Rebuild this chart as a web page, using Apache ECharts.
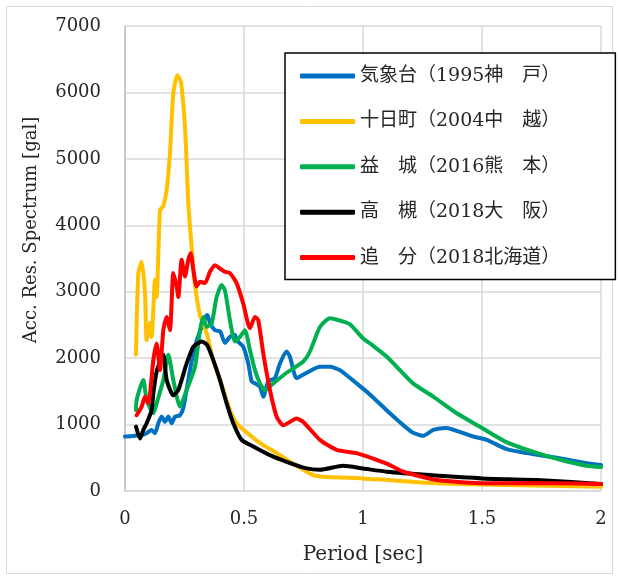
<!DOCTYPE html>
<html>
<head>
<meta charset="utf-8">
<script src="https://cdn.jsdelivr.net/npm/echarts@6/dist/echarts.min.js"></script>
<style>
    html, body { margin: 0; padding: 0; background: #fff; }
    #chart { width: 619px; height: 580px; }
</style>
</head>
<body>
<div id="chart"></div>
<script>
// 凡例ラベル
const seriesNames = [
    '気象台（1995神　戸）',
    '十日町（2004中　越）',
    '益　城（2016熊　本）',
    '高　槻（2018大　阪）',
    '追　分（2018北海道）'
];
const seriesColors = ['#0070C0', '#FFC000', '#00B050', '#000000', '#FF0000'];
const yAxisTitle = 'Acc. Res. Spectrum [gal]';

// [周期 sec, 加速度応答 gal]
const kishodai = [[0,820],[0.042,830],[0.07,840],[0.091,870],[0.112,920],[0.126,870],[0.14,1020],[0.154,1120],[0.168,1040],[0.182,1120],[0.196,1020],[0.21,1120],[0.231,1140],[0.245,1250],[0.26,1550],[0.28,1950],[0.3,2250],[0.32,2450],[0.336,2600],[0.346,2650],[0.357,2530],[0.378,2420],[0.4,2400],[0.42,2230],[0.441,2320],[0.462,2350],[0.469,2270],[0.497,2170],[0.518,1920],[0.532,1650],[0.546,1620],[0.567,1570],[0.581,1420],[0.602,1650],[0.63,1700],[0.651,1920],[0.679,2100],[0.693,2020],[0.721,1700],[0.763,1780],[0.819,1870],[0.861,1870],[0.903,1820],[0.973,1620],[1.03,1450],[1.113,1170],[1.204,890],[1.253,830],[1.295,920],[1.35,950],[1.407,890],[1.463,820],[1.52,770],[1.604,630],[1.688,570],[1.814,500],[1.94,420],[2.0,390]];
const tokamachi = [[0.046,2050],[0.056,3280],[0.07,3450],[0.084,2980],[0.091,2270],[0.105,2530],[0.112,2320],[0.126,3180],[0.133,2920],[0.147,4230],[0.161,4290],[0.175,4530],[0.189,5090],[0.203,5990],[0.22,6260],[0.235,6160],[0.252,5480],[0.266,4330],[0.28,3670],[0.294,3100],[0.315,2650],[0.343,2380],[0.37,1970],[0.4,1670],[0.441,1220],[0.469,1020],[0.525,840],[0.58,690],[0.62,610],[0.68,470],[0.735,350],[0.79,240],[0.85,210],[1.0,190],[1.1,165],[1.28,120],[1.59,90],[2.0,65]];
const mashiki = [[0.046,1220],[0.049,1370],[0.063,1550],[0.077,1670],[0.091,1370],[0.119,1170],[0.133,1320],[0.161,1670],[0.182,2050],[0.203,1670],[0.231,1270],[0.259,1520],[0.294,1870],[0.315,2420],[0.329,2620],[0.343,2470],[0.364,2520],[0.385,2920],[0.406,3100],[0.42,3020],[0.441,2570],[0.462,2250],[0.483,2320],[0.504,2420],[0.525,2120],[0.546,1820],[0.567,1620],[0.588,1520],[0.623,1620],[0.679,1780],[0.749,1950],[0.777,2100],[0.819,2470],[0.861,2600],[0.917,2550],[0.945,2510],[1.0,2300],[1.03,2220],[1.1,2020],[1.155,1820],[1.21,1620],[1.295,1420],[1.394,1170],[1.49,970],[1.6,740],[1.716,590],[1.83,470],[1.94,380],[2.0,360]];
const takatsuki = [[0.046,970],[0.063,790],[0.077,920],[0.091,1020],[0.112,1220],[0.119,1470],[0.133,1800],[0.161,2050],[0.175,1670],[0.203,1440],[0.224,1520],[0.259,1920],[0.287,2170],[0.322,2250],[0.345,2200],[0.371,1970],[0.399,1670],[0.427,1320],[0.455,1020],[0.49,770],[0.539,670],[0.609,540],[0.679,440],[0.763,340],[0.819,320],[0.917,380],[1.0,340],[1.1,290],[1.28,240],[1.5,190],[1.73,165],[2.0,105]];
const oiwake = [[0.049,1140],[0.07,1270],[0.084,1420],[0.098,1320],[0.119,1970],[0.133,2220],[0.147,1820],[0.161,2420],[0.175,2620],[0.189,2420],[0.203,3280],[0.217,3080],[0.224,2920],[0.238,3480],[0.252,3230],[0.266,3480],[0.276,3580],[0.287,3330],[0.301,3080],[0.315,3150],[0.336,3130],[0.357,3300],[0.378,3400],[0.399,3350],[0.42,3300],[0.441,3280],[0.469,3130],[0.497,2820],[0.525,2450],[0.546,2620],[0.56,2570],[0.581,2070],[0.609,1520],[0.637,1120],[0.665,990],[0.721,1090],[0.749,1040],[0.819,770],[0.889,620],[0.973,570],[1.04,490],[1.113,390],[1.17,290],[1.31,165],[1.52,115],[1.8,115],[2.0,105]];

const seriesData = [kishodai, tokamachi, mashiki, takatsuki, oiwake];

const serifFont = '"DejaVu Serif", "Noto Sans CJK JP", serif';
const gridColor = '#d9d9d9';

const chart = echarts.init(document.getElementById('chart'));

const option = {
    animation: false,
    backgroundColor: '#ffffff',
    textStyle: { fontFamily: serifFont, color: '#262626' },
    grid: { left: 125, right: 18, top: 26, bottom: 89 },
    graphic: [{
        type: 'rect',
        shape: { x: 6.5, y: 6.5, width: 606, height: 567 },
        style: { fill: 'none', stroke: gridColor, lineWidth: 1 },
        silent: true
    }, {
        // 縦軸タイトル（プロット中央より上寄り）
        type: 'text',
        x: 31,
        y: 230,
        rotation: Math.PI / 2,
        style: {
            text: yAxisTitle,
            fontFamily: serifFont,
            fontSize: 18,
            fill: '#262626',
            align: 'center',
            verticalAlign: 'middle'
        },
        silent: true
    }],
    legend: {
        orient: 'vertical',
        left: 285,
        top: 53,
        icon: 'roundRect',
        itemWidth: 55,
        itemHeight: 5,
        itemGap: 25.4,
        padding: [13, 55, 12, 15],
        borderColor: '#000000',
        borderWidth: 1.5,
        backgroundColor: '#ffffff',
        textStyle: { fontFamily: serifFont, fontSize: 19, lineHeight: 20, color: '#262626' },
        data: seriesNames
    },
    xAxis: {
        type: 'value',
        min: 0,
        max: 2,
        interval: 0.5,
        name: 'Period [sec]',
        nameLocation: 'middle',
        nameGap: 54,
        nameTextStyle: { fontFamily: serifFont, fontSize: 20, color: '#262626' },
        axisLine: { show: true, lineStyle: { color: gridColor, width: 1.5 } },
        axisTick: { show: false },
        axisLabel: { fontFamily: serifFont, fontSize: 18, color: '#262626', margin: 19 },
        splitLine: { show: true, lineStyle: { color: gridColor, width: 1.5 } }
    },
    yAxis: {
        type: 'value',
        min: 0,
        max: 7000,
        interval: 1000,
        axisLine: { show: true, lineStyle: { color: '#bfbfbf', width: 1.5 } },
        axisTick: { show: false },
        axisLabel: { fontFamily: serifFont, fontSize: 18, color: '#262626', margin: 24, formatter: v => String(v) },
        splitLine: { show: true, lineStyle: { color: gridColor, width: 1.5 } }
    },
    series: seriesNames.map((name, i) => ({
        name: name,
        type: 'line',
        data: seriesData[i],
        smooth: 0.2,
        symbol: 'none',
        color: seriesColors[i],
        lineStyle: { color: seriesColors[i], width: 4, cap: 'round', join: 'round' },
        z: 2 + i
    }))
};

chart.setOption(option);
</script>
</body>
</html>
